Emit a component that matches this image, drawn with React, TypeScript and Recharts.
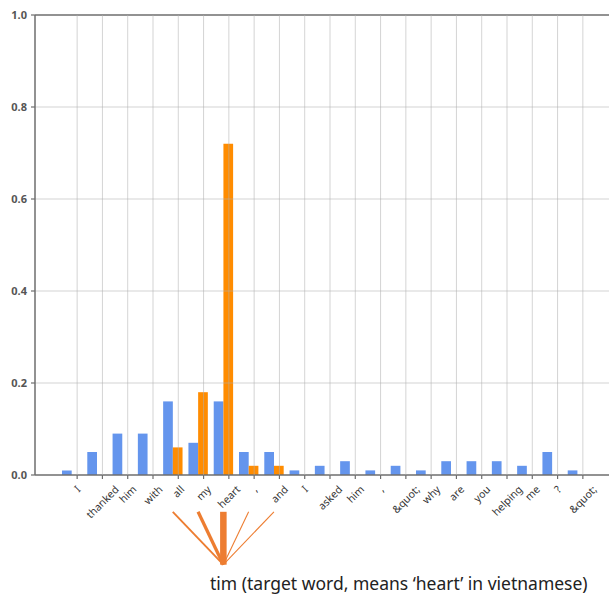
import React from 'react';
import { BarChart, Bar, XAxis, YAxis, ReferenceLine } from 'recharts';

const tokens = ['I', 'thanked', 'him', 'with', 'all', 'my', 'heart', ',', 'and', 'I', 'asked', 'him', ',', '&quot;', 'why', 'are', 'you', 'helping', 'me', '?', '&quot;'];
const blueValues = [0.01, 0.05, 0.09, 0.09, 0.16, 0.07, 0.16, 0.05, 0.05, 0.01, 0.02, 0.03, 0.01, 0.02, 0.01, 0.03, 0.03, 0.03, 0.02, 0.05, 0.01];
const orangeValues = [0, 0, 0, 0, 0.06, 0.18, 0.72, 0.02, 0.02, 0, 0, 0, 0, 0, 0, 0, 0, 0, 0, 0, 0];
const yTicks = [0, 0.2, 0.4, 0.6, 0.8, 1.0];
const gridY = [0.2, 0.4, 0.6, 0.8];
const targetIndex = 6;
const annotationText = 'tim (target word, means \u2018heart\u2019 in vietnamese)';
const annTopY = -0.08;
const annBottomY = -0.195;

const data = tokens.map((t, i) => ({ idx: i, token: t, blue: blueValues[i], orange: orangeValues[i] }));

const W = 609;
const H = 594;
const MARGIN = { top: 15, right: 0, bottom: 0, left: 0 };
const Y_W = 35;
const X_H = 119;
const PLOT_H = H - MARGIN.top - X_H;
const TICK_SHIFT = 5.5;
const FONT = '"Noto Sans", "Open Sans", sans-serif';
const GRID = '#b0b0b0';
const SPINE = '#6e6e6e';

let ctx: CanvasRenderingContext2D | null = null;
function measure(text: string, size: number): number {
  try {
    if (!ctx) ctx = document.createElement('canvas').getContext('2d');
    if (ctx) {
      ctx.font = `${size}px ${FONT}`;
      return ctx.measureText(text).width;
    }
  } catch (e) {}
  return text.length * size * 0.55;
}

const XTick = (props: any) => {
  const { x, y, payload } = props;
  const label = tokens[payload.value];
  const tx = x + TICK_SHIFT;
  const fs = 10.5;
  const L = measure(label, fs);
  const h = fs * 0.9;
  const box = (L + h) * Math.SQRT1_2;
  const cy = y + 9 + box / 2;
  return (
    <g>
      <line x1={tx} x2={tx} y1={y - PLOT_H} y2={y} stroke={GRID} strokeOpacity={0.55} strokeWidth={1} />
      <line x1={tx} x2={tx} y1={y} y2={y + 4} stroke={SPINE} strokeWidth={1.2} />
      <text
        x={tx}
        y={cy}
        textAnchor="middle"
        dominantBaseline="central"
        transform={`rotate(-45 ${tx} ${cy})`}
        fontSize={fs}
        fontFamily={FONT}
        fill="#333"
      >
        {label}
      </text>
    </g>
  );
};

export default function App() {
  return (
    <div style={{ position: 'absolute', left: 0, top: 0, width: W, height: H, overflow: 'hidden', background: '#fff' }}>
      <BarChart width={W} height={H} data={data} margin={MARGIN} barGap={0} barSize={9.7}>
        <XAxis
          dataKey="idx"
          type="category"
          interval={0}
          height={X_H}
          padding={{ left: 24, right: 19 }}
          tickSize={0}
          tickMargin={0}
          tickLine={false}
          axisLine={{ stroke: SPINE, strokeWidth: 1.5 }}
          tick={<XTick />}
        />
        <YAxis
          domain={[0, 1]}
          ticks={yTicks}
          width={Y_W}
          tickSize={4}
          tickMargin={4}
          tickLine={{ stroke: SPINE, strokeWidth: 1.2 }}
          axisLine={{ stroke: SPINE, strokeWidth: 1.5 }}
          tickFormatter={(v: number) => v.toFixed(1)}
          tick={{ fontSize: 11, fontWeight: 'bold', fill: '#555', fontFamily: FONT }}
          allowDataOverflow
        />
        <Bar dataKey="blue" fill="#6495ED" isAnimationActive={false} />
        <Bar dataKey="orange" fill="#FF8C00" isAnimationActive={false} />
        {gridY.map((g) => (
          <ReferenceLine key={g} y={g} stroke={GRID} strokeOpacity={0.55} strokeWidth={1} />
        ))}
        <ReferenceLine y={1} stroke={SPINE} strokeWidth={1.5} />
        {orangeValues.map((v, i) =>
          v > 0 ? (
            <ReferenceLine
              key={'ann' + i}
              ifOverflow="visible"
              segment={[
                { x: i, y: annTopY },
                { x: targetIndex, y: annBottomY },
              ]}
              stroke="#ED7D31"
              strokeWidth={Math.max(1, 7.7 * Math.sqrt(v))}
            />
          ) : null
        )}
      </BarChart>
      <svg width={W} height={H} style={{ position: 'absolute', left: 0, top: 0, pointerEvents: 'none' }}>
        <text x={210} y={590} fontSize={17.5} fontFamily={FONT} fill="#222">
          {annotationText}
        </text>
      </svg>
    </div>
  );
}
